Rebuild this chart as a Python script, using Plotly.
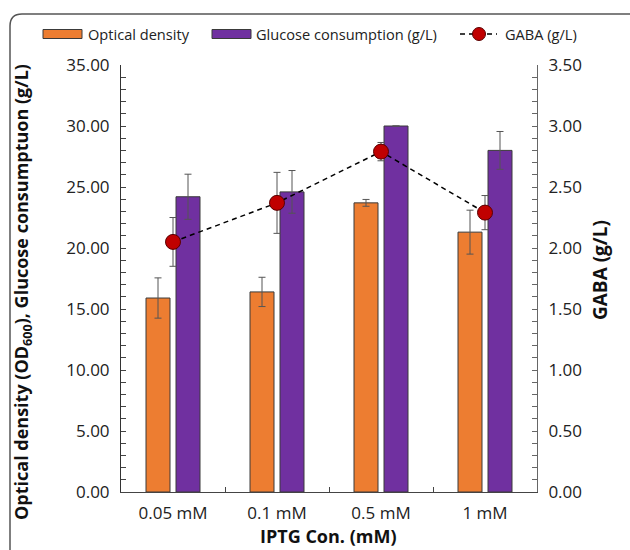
import plotly.graph_objects as go

categories = ["0.05 mM", "0.1 mM", "0.5 mM", "1 mM"]
optical_density = [15.9, 16.4, 23.7, 21.3]
optical_density_err = [1.65, 1.2, 0.28, 1.8]
glucose = [24.2, 24.6, 30.0, 28.0]
glucose_err = [1.85, 1.75, 0.0, 1.55]
gaba = [2.05, 2.37, 2.79, 2.29]
gaba_err = [0.2, 0.25, 0.075, 0.14]

FONT = "Open Sans"
W, H = 630, 550
L, R, T, B = 121, 93, 65, 58
PW, PH = W - L - R, H - T - B


def px(x):
    return (x - L) / PW


def py(y):
    return (H - B - y) / PH


fig = go.Figure()
err_style = dict(type="data", thickness=1, width=3.5, color="#555555")
fig.add_trace(go.Bar(
    x=categories, y=optical_density, name="Optical density",
    marker=dict(color="#ED7D31", line=dict(color="#3a3a3a", width=1)),
    error_y=dict(array=optical_density_err, **err_style),
))
fig.add_trace(go.Bar(
    x=categories, y=glucose, name="Glucose consumption (g/L)",
    marker=dict(color="#7030A0", line=dict(color="#3a3a3a", width=1)),
    error_y=dict(array=glucose_err, **err_style),
))
fig.add_trace(go.Scatter(
    x=categories, y=gaba, name="GABA (g/L)", yaxis="y2", mode="lines+markers",
    line=dict(color="black", width=1.5, dash="5px,4px"),
    marker=dict(color="#C00000", size=15, line=dict(color="#5a0000", width=1)),
    error_y=dict(array=gaba_err, **err_style),
))

axis_common = dict(showgrid=False, zeroline=False, showline=True, linewidth=1,
                   tickfont=dict(family=FONT, size=17, color="#222"))

fig.update_layout(
    width=W, height=H,
    margin=dict(l=L, r=R, t=T, b=B),
    plot_bgcolor="white", paper_bgcolor="white",
    showlegend=False,
    barmode="group", bargap=0.423, bargroupgap=0.2,
    font=dict(family=FONT, color="#222"),
    xaxis=dict(**axis_common, linecolor="#444", ticks="inside", ticklen=5,
               tickcolor="#444", tickson="boundaries", ticklabelstandoff=6),
    yaxis=dict(**axis_common, linecolor="#333", range=[0, 35], dtick=5,
               tickformat=".2f", ticks="inside", ticklen=5, tickcolor="#444",
               ticklabelstandoff=7,
               minor=dict(dtick=1, ticks="inside", ticklen=5, tickcolor="#444")),
    yaxis2=dict(**axis_common, linecolor="#666", overlaying="y", side="right",
                range=[0, 3.5], dtick=0.5, tickformat=".2f", ticks="inside",
                ticklen=5, tickcolor="#666", ticklabelstandoff=7,
                minor=dict(dtick=0.1, ticks="inside", ticklen=5, tickcolor="#666")),
)

# frame (rounded corner, running off the right and bottom edges)
x0, yt = px(10), py(14)
xr, yb = px(W + 5), py(H + 5)
rx, ry = 12 / PW, 12 / PH
shapes = [dict(type="path", xref="paper", yref="paper",
               path=f"M {x0},{yb} L {x0},{yt - ry} Q {x0},{yt} {x0 + rx},{yt} L {xr},{yt}",
               line=dict(color="#555", width=1.5))]

# custom legend
ly = 34
shapes.append(dict(type="rect", xref="paper", yref="paper",
                   x0=px(43), x1=px(82), y0=py(38.5), y1=py(29.5),
                   fillcolor="#ED7D31", line=dict(color="#3a3a3a", width=1)))
shapes.append(dict(type="rect", xref="paper", yref="paper",
                   x0=px(212), x1=px(251), y0=py(38.5), y1=py(29.5),
                   fillcolor="#7030A0", line=dict(color="#3a3a3a", width=1)))
shapes.append(dict(type="line", xref="paper", yref="paper",
                   x0=px(460), x1=px(497), y0=py(ly), y1=py(ly),
                   line=dict(color="black", width=1.5, dash="5px,4px")))
shapes.append(dict(type="circle", xref="paper", yref="paper",
                   x0=px(472.5), x1=px(485.5), y0=py(40.5), y1=py(27.5),
                   fillcolor="#C00000", line=dict(color="#5a0000", width=1)))

annotations = []
for xpos, txt in [(86, "Optical density"), (254, "Glucose consumption (g/L)"),
                  (503, "GABA (g/L)")]:
    annotations.append(dict(x=px(xpos), y=py(ly), xref="paper", yref="paper",
                            text=txt, showarrow=False, xanchor="left", yanchor="middle",
                            font=dict(family=FONT, size=14.6, color="#222")))

title_font = dict(family=FONT, size=18, color="#111")
annotations.append(dict(x=px(22), y=py(292), xref="paper", yref="paper",
                        text="<b>Optical density (OD<sub>600</sub>), Glucose consumptuon (g/L)</b>",
                        textangle=-90, showarrow=False, xanchor="center", yanchor="middle",
                        font=title_font))
annotations.append(dict(x=px(600), y=py(270), xref="paper", yref="paper",
                        text="<b>GABA (g/L)</b>", textangle=-90, showarrow=False,
                        xanchor="center", yanchor="middle",
                        font=dict(family=FONT, size=19, color="#111")))
annotations.append(dict(x=px(328), y=py(536), xref="paper", yref="paper",
                        text="<b>IPTG Con. (mM)</b>", showarrow=False,
                        xanchor="center", yanchor="middle", font=title_font))

fig.update_layout(shapes=shapes, annotations=annotations)
fig.write_html("out.html")
